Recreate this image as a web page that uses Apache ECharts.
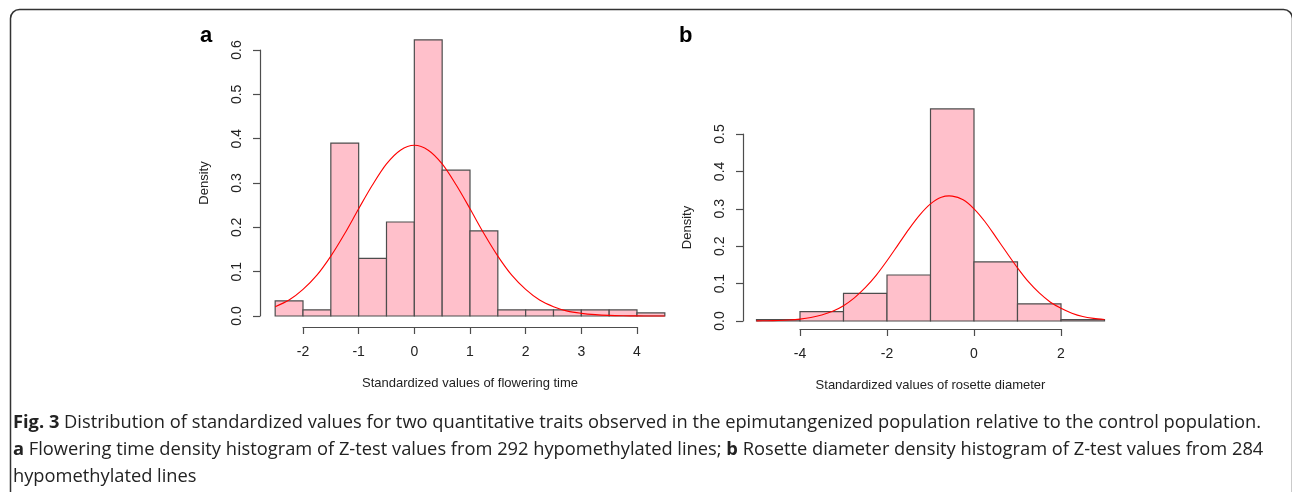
<!DOCTYPE html>
<html>
<head>
<meta charset="utf-8">
<script src="https://cdn.jsdelivr.net/npm/echarts@6/dist/echarts.min.js"></script>
<style>
  html, body { margin: 0; padding: 0; background: #fff; }
  #chart { width: 1292px; height: 492px; }
</style>
</head>
<body>
<div id="chart"></div>
<script>
// panel a: flowering time (bins of 0.5)
var aBreaks = [-2.5, -2, -1.5, -1, -0.5, 0, 0.5, 1, 1.5, 2, 2.5, 3, 3.5, 4, 4.5];
var aDensity = [0.034, 0.014, 0.390, 0.130, 0.212, 0.623, 0.329, 0.192, 0.014, 0.014, 0.014, 0.014, 0.014, 0.007];
var aCurveX = [-2.5, -2.25, -2, -1.75, -1.5, -1.25, -1, -0.75, -0.5, -0.25, 0, 0.25, 0.5, 0.75, 1, 1.25, 1.5, 1.75, 2, 2.25, 2.5, 2.75, 3, 3.25, 3.5, 3.75, 4, 4.25, 4.5];
var aCurveY = [0.021, 0.036, 0.060, 0.092, 0.135, 0.186, 0.242, 0.296, 0.343, 0.374, 0.385, 0.374, 0.343, 0.296, 0.242, 0.186, 0.135, 0.092, 0.060, 0.036, 0.021, 0.011, 0.006, 0.003, 0.0013, 0.0005, 0.0002, 0.0001, 0.0];
var aXTicks = [-2, -1, 0, 1, 2, 3, 4];
var aYTicks = [0, 0.1, 0.2, 0.3, 0.4, 0.5, 0.6];

// panel b: rosette diameter (bins of 1)
var bBreaks = [-5, -4, -3, -2, -1, 0, 1, 2, 3];
var bDensity = [0.0035, 0.025, 0.074, 0.123, 0.567, 0.158, 0.046, 0.0035];
var bCurveX = [-5, -4.75, -4.5, -4.25, -4, -3.75, -3.5, -3.25, -3, -2.75, -2.5, -2.25, -2, -1.75, -1.5, -1.25, -1, -0.75, -0.5, -0.25, 0, 0.25, 0.5, 0.75, 1, 1.25, 1.5, 1.75, 2, 2.25, 2.5, 2.75, 3];
var bCurveY = [0.0003, 0.0007, 0.0014, 0.0027, 0.0051, 0.0092, 0.016, 0.026, 0.041, 0.062, 0.089, 0.122, 0.161, 0.203, 0.245, 0.283, 0.313, 0.331, 0.334, 0.324, 0.300, 0.266, 0.225, 0.183, 0.142, 0.105, 0.075, 0.051, 0.034, 0.021, 0.012, 0.007, 0.004];
var bXTicks = [-4, -2, 0, 2];
var bYTicks = [0, 0.1, 0.2, 0.3, 0.4, 0.5];

var axisColor = '#4d4d4d';
var labelFont = 'Liberation Sans';

function binRows(breaks, dens) {
    var rows = [];
    for (var i = 0; i < dens.length; i++) {
        rows.push([breaks[i], breaks[i + 1], dens[i]]);
    }
    return rows;
}

function histItem(params, api) {
    var p0 = api.coord([api.value(0), api.value(2)]);
    var p1 = api.coord([api.value(1), 0]);
    return {
        type: 'rect',
        shape: { x: p0[0], y: p0[1], width: p1[0] - p0[0], height: p1[1] - p0[1] },
        style: { fill: '#FFC0CB', stroke: axisColor, lineWidth: 1.2 }
    };
}

// the curve runs past the axis ends, so draw it as one polyline
function curveItem(xs, ys) {
    return function(params, api) {
        var pts = xs.map(function(x, i) { return api.coord([x, ys[i]]); });
        return {
            type: 'polyline',
            shape: { points: pts, smooth: 0.3 },
            style: { fill: null, stroke: '#ff0000', lineWidth: 1.1 }
        };
    };
}

function xAxisFor(idx, ticks, name, offset) {
    return {
        type: 'value',
        gridIndex: idx,
        min: ticks[0],
        max: ticks[ticks.length - 1],
        interval: ticks[1] - ticks[0],
        offset: offset,
        name: name,
        nameLocation: 'middle',
        nameGap: 50,
        nameTextStyle: { fontFamily: labelFont, fontSize: 13, color: '#222' },
        splitLine: { show: false },
        axisLine: { show: true, onZero: false, lineStyle: { color: axisColor, width: 1.2 } },
        axisTick: { show: true, length: 7, lineStyle: { color: axisColor, width: 1.2 } },
        axisLabel: { margin: 18, fontFamily: labelFont, fontSize: 14, color: '#222' }
    };
}

function yAxisFor(idx, ticks, offset) {
    return {
        type: 'value',
        gridIndex: idx,
        min: 0,
        max: ticks[ticks.length - 1],
        interval: 0.1,
        offset: offset,
        name: 'Density',
        nameLocation: 'middle',
        nameGap: 49,
        nameRotate: 90,
        nameTextStyle: { fontFamily: labelFont, fontSize: 13, color: '#222' },
        splitLine: { show: false },
        axisLine: { show: true, onZero: false, lineStyle: { color: axisColor, width: 1.2 } },
        axisTick: { show: true, length: 7, lineStyle: { color: axisColor, width: 1.2 } },
        axisLabel: {
            rotate: 90, margin: 16, fontFamily: labelFont, fontSize: 14, color: '#222',
            formatter: function(v) { return v.toFixed(1); }
        }
    };
}

var chart = echarts.init(document.getElementById('chart'));

var option = {
    animation: false,
    backgroundColor: '#fff',
    grid: [
        { left: 303, top: 50, width: 334, height: 266 },
        { left: 800, top: 134, width: 261, height: 187 }
    ],
    xAxis: [
        xAxisFor(0, aXTicks, 'Standardized values of flowering time', 11),
        xAxisFor(1, bXTicks, 'Standardized values of rosette diameter', 8)
    ],
    yAxis: [
        yAxisFor(0, aYTicks, 43),
        yAxisFor(1, bYTicks, 57)
    ],
    series: [
        {
            type: 'custom', xAxisIndex: 0, yAxisIndex: 0,
            renderItem: histItem, clip: false,
            encode: { x: [0, 1], y: 2 },
            data: binRows(aBreaks, aDensity)
        },
        {
            type: 'custom', xAxisIndex: 0, yAxisIndex: 0, z: 3,
            renderItem: curveItem(aCurveX, aCurveY), clip: false,
            data: [[0, 0]]
        },
        {
            type: 'custom', xAxisIndex: 1, yAxisIndex: 1,
            renderItem: histItem, clip: false,
            encode: { x: [0, 1], y: 2 },
            data: binRows(bBreaks, bDensity)
        },
        {
            type: 'custom', xAxisIndex: 1, yAxisIndex: 1, z: 3,
            renderItem: curveItem(bCurveX, bCurveY), clip: false,
            data: [[0, 0]]
        }
    ],
    graphic: [
        {
            type: 'rect', left: 8, top: 7, z: -1,
            shape: { width: 1282, height: 500, r: 9 },
            style: { fill: 'none', stroke: '#333', lineWidth: 1.5 }
        },
        {
            type: 'text', left: 200, top: 25,
            style: { text: 'a', font: 'bold 22px "Liberation Sans"', fill: '#000' }
        },
        {
            type: 'text', left: 679, top: 25,
            style: { text: 'b', font: 'bold 22px "Liberation Sans"', fill: '#000' }
        },
        {
            type: 'text', left: 13, top: 409,
            style: {
                text: '{b|Fig. 3} Distribution of standardized values for two quantitative traits observed in the epimutangenized population relative to the control population.\n' +
                      '{b|a} Flowering time density histogram of Z-test values from 292 hypomethylated lines; {b|b} Rosette diameter density histogram of Z-test values from 284\n' +
                      'hypomethylated lines',
                font: '18.3px "Open Sans"',
                fill: '#222',
                lineHeight: 27,
                rich: {
                    b: { font: 'bold 18.3px "Open Sans"', fill: '#222', lineHeight: 27 }
                }
            }
        }
    ]
};

chart.setOption(option);
</script>
</body>
</html>
